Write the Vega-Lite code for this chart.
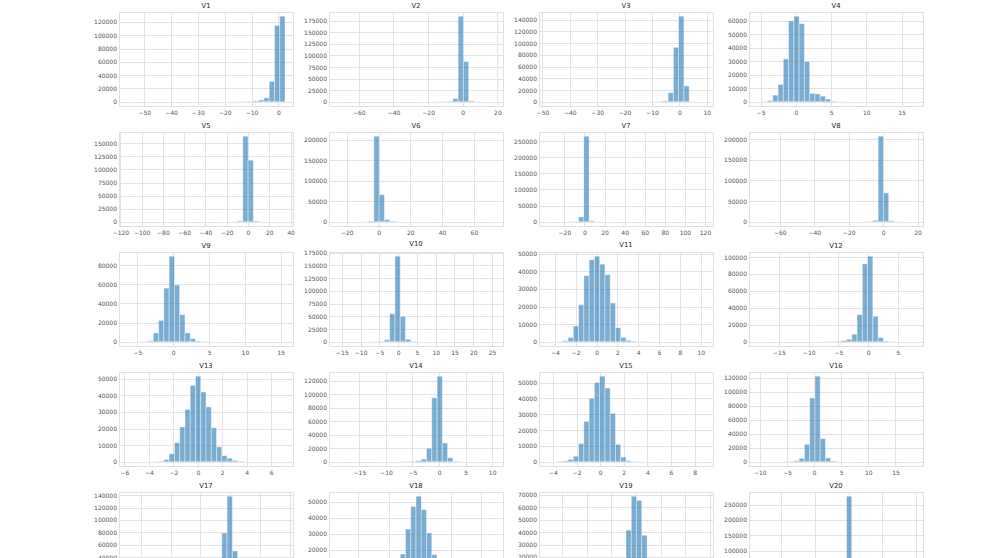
{
"$schema": "https://vega.github.io/schema/vega-lite/v6.json",
"background": "white",
"padding": {"left": 93, "top": 2, "right": 0, "bottom": 0},
"datasets": {
"V1": [{"s":-56.41,"e":-54.45,"c":2},{"s":-21.09,"e":-19.13,"c":30},{"s":-19.13,"e":-17.17,"c":50},{"s":-17.17,"e":-15.21,"c":80},{"s":-15.21,"e":-13.25,"c":150},{"s":-13.25,"e":-11.28,"c":300},{"s":-11.28,"e":-9.32,"c":600},{"s":-9.32,"e":-7.36,"c":1300},{"s":-7.36,"e":-5.40,"c":2800},{"s":-5.40,"e":-3.44,"c":6000},{"s":-3.44,"e":-1.47,"c":30500},{"s":-1.47,"e":0.49,"c":114500},{"s":0.49,"e":2.45,"c":128500}],
"V2": [{"s":-72.6,"e":-69.56,"c":1},{"s":-23.96,"e":-20.92,"c":20},{"s":-20.92,"e":-17.88,"c":40},{"s":-17.88,"e":-14.84,"c":100},{"s":-14.84,"e":-11.8,"c":250},{"s":-11.8,"e":-8.76,"c":500},{"s":-8.76,"e":-5.72,"c":1300},{"s":-5.72,"e":-2.68,"c":6900},{"s":-2.68,"e":0.36,"c":184500},{"s":0.36,"e":3.40,"c":86800},{"s":3.40,"e":6.44,"c":2000},{"s":6.44,"e":9.48,"c":250},{"s":9.48,"e":12.52,"c":60},{"s":12.52,"e":15.56,"c":15},{"s":15.56,"e":18.6,"c":3}],
"V3": [{"s":-48.33,"e":-46.41,"c":1},{"s":-15.63,"e":-13.70,"c":20},{"s":-13.70,"e":-11.78,"c":40},{"s":-11.78,"e":-9.86,"c":80},{"s":-9.86,"e":-7.93,"c":200},{"s":-7.93,"e":-6.01,"c":500},{"s":-6.01,"e":-4.09,"c":1600},{"s":-4.09,"e":-2.16,"c":15700},{"s":-2.16,"e":-0.24,"c":92800},{"s":-0.24,"e":1.69,"c":146000},{"s":1.69,"e":3.61,"c":27100},{"s":3.61,"e":5.53,"c":300},{"s":5.53,"e":7.46,"c":40},{"s":7.46,"e":9.38,"c":5}],
"V4": [{"s":-5.50,"e":-4.75,"c":20},{"s":-4.75,"e":-4.01,"c":150},{"s":-4.01,"e":-3.26,"c":900},{"s":-3.26,"e":-2.51,"c":4900},{"s":-2.51,"e":-1.77,"c":12900},{"s":-1.77,"e":-1.02,"c":31700},{"s":-1.02,"e":-0.27,"c":59800},{"s":-0.27,"e":0.47,"c":63300},{"s":0.47,"e":1.22,"c":57800},{"s":1.22,"e":1.97,"c":29800},{"s":1.97,"e":2.71,"c":6300},{"s":2.71,"e":3.46,"c":5800},{"s":3.46,"e":4.21,"c":4200},{"s":4.21,"e":4.95,"c":2000},{"s":4.95,"e":5.70,"c":400},{"s":5.70,"e":6.45,"c":120},{"s":6.45,"e":7.19,"c":50},{"s":7.19,"e":7.94,"c":25},{"s":7.94,"e":8.69,"c":12},{"s":8.69,"e":9.43,"c":6},{"s":9.43,"e":10.18,"c":4},{"s":16.15,"e":16.9,"c":1}],
"V5": [{"s":-113.74,"e":-108.79,"c":1},{"s":-29.57,"e":-24.62,"c":10},{"s":-24.62,"e":-19.67,"c":30},{"s":-19.67,"e":-14.71,"c":80},{"s":-14.71,"e":-9.76,"c":250},{"s":-9.76,"e":-4.81,"c":1800},{"s":-4.81,"e":0.14,"c":163400},{"s":0.14,"e":5.09,"c":117700},{"s":5.09,"e":10.04,"c":1500},{"s":10.04,"e":14.99,"c":150},{"s":14.99,"e":19.95,"c":30},{"s":19.95,"e":24.90,"c":10},{"s":24.90,"e":29.85,"c":4},{"s":29.85,"e":34.80,"c":1}],
"V6": [{"s":-26.16,"e":-22.84,"c":2},{"s":-16.21,"e":-12.90,"c":20},{"s":-12.90,"e":-9.58,"c":60},{"s":-9.58,"e":-6.27,"c":300},{"s":-6.27,"e":-2.95,"c":1800},{"s":-2.95,"e":0.36,"c":208500},{"s":0.36,"e":3.68,"c":66100},{"s":3.68,"e":6.99,"c":5400},{"s":6.99,"e":10.31,"c":1500},{"s":10.31,"e":13.62,"c":400},{"s":13.62,"e":16.94,"c":150},{"s":16.94,"e":20.25,"c":60},{"s":20.25,"e":23.57,"c":25},{"s":23.57,"e":26.88,"c":10},{"s":26.88,"e":30.20,"c":5},{"s":69.98,"e":73.30,"c":1}],
"V7": [{"s":-37.3,"e":-32.06,"c":1},{"s":-16.33,"e":-11.08,"c":200},{"s":-11.08,"e":-5.84,"c":800},{"s":-5.84,"e":-0.60,"c":15000},{"s":-0.60,"e":4.65,"c":265000},{"s":4.65,"e":9.89,"c":3000},{"s":9.89,"e":15.13,"c":300},{"s":15.13,"e":20.38,"c":60},{"s":20.38,"e":25.62,"c":15},{"s":114.76,"e":120.0,"c":1}],
"V8": [{"s":-73.22,"e":-70.16,"c":2},{"s":-18.19,"e":-15.13,"c":30},{"s":-15.13,"e":-12.07,"c":80},{"s":-12.07,"e":-9.02,"c":200},{"s":-9.02,"e":-5.96,"c":800},{"s":-5.96,"e":-2.90,"c":3500},{"s":-2.90,"e":0.16,"c":207000},{"s":0.16,"e":3.21,"c":70000},{"s":3.21,"e":6.27,"c":2500},{"s":6.27,"e":9.33,"c":400},{"s":9.33,"e":12.38,"c":80},{"s":12.38,"e":15.44,"c":20},{"s":15.44,"e":18.5,"c":3}],
"V9": [{"s":-6.45,"e":-5.72,"c":5},{"s":-5.72,"e":-4.98,"c":20},{"s":-4.98,"e":-4.25,"c":80},{"s":-4.25,"e":-3.51,"c":300},{"s":-3.51,"e":-2.78,"c":1000},{"s":-2.78,"e":-2.04,"c":9300},{"s":-2.04,"e":-1.31,"c":22300},{"s":-1.31,"e":-0.57,"c":56000},{"s":-0.57,"e":0.17,"c":89300},{"s":0.17,"e":0.90,"c":59300},{"s":0.90,"e":1.64,"c":28300},{"s":1.64,"e":2.37,"c":9300},{"s":2.37,"e":3.11,"c":3300},{"s":3.11,"e":3.84,"c":800},{"s":3.84,"e":4.58,"c":250},{"s":4.58,"e":5.31,"c":100},{"s":5.31,"e":6.05,"c":40},{"s":6.05,"e":6.78,"c":20},{"s":6.78,"e":7.52,"c":10},{"s":14.87,"e":15.6,"c":1}],
"V10": [{"s":-16.3,"e":-14.90,"c":2},{"s":-9.28,"e":-7.88,"c":50},{"s":-7.88,"e":-6.48,"c":150},{"s":-6.48,"e":-5.07,"c":350},{"s":-5.07,"e":-3.67,"c":800},{"s":-3.67,"e":-2.27,"c":4000},{"s":-2.27,"e":-0.86,"c":55000},{"s":-0.86,"e":0.54,"c":168000},{"s":0.54,"e":1.94,"c":50000},{"s":1.94,"e":3.35,"c":5000},{"s":3.35,"e":4.75,"c":800},{"s":4.75,"e":6.15,"c":200},{"s":6.15,"e":7.56,"c":60},{"s":7.56,"e":8.96,"c":20},{"s":24.40,"e":25.8,"c":1}],
"V11": [{"s":-4.75,"e":-4.245,"c":5},{"s":-4.245,"e":-3.74,"c":30},{"s":-3.74,"e":-3.235,"c":150},{"s":-3.235,"e":-2.73,"c":600},{"s":-2.73,"e":-2.225,"c":2500},{"s":-2.225,"e":-1.72,"c":9000},{"s":-1.72,"e":-1.215,"c":21000},{"s":-1.215,"e":-0.71,"c":37500},{"s":-0.71,"e":-0.205,"c":46500},{"s":-0.205,"e":0.30,"c":48500},{"s":0.30,"e":0.805,"c":44000},{"s":0.805,"e":1.31,"c":38000},{"s":1.31,"e":1.815,"c":22000},{"s":1.815,"e":2.32,"c":8000},{"s":2.32,"e":2.825,"c":2500},{"s":2.825,"e":3.33,"c":800},{"s":3.33,"e":3.835,"c":300},{"s":3.835,"e":4.34,"c":120},{"s":4.34,"e":4.845,"c":50},{"s":4.845,"e":5.35,"c":20},{"s":9.895,"e":10.4,"c":1}],
"V12": [{"s":-18.68,"e":-17.80,"c":2},{"s":-8.07,"e":-7.19,"c":50},{"s":-7.19,"e":-6.30,"c":150},{"s":-6.30,"e":-5.42,"c":300},{"s":-5.42,"e":-4.53,"c":700},{"s":-4.53,"e":-3.65,"c":1500},{"s":-3.65,"e":-2.76,"c":3000},{"s":-2.76,"e":-1.88,"c":9000},{"s":-1.88,"e":-0.99,"c":32000},{"s":-0.99,"e":-0.11,"c":92000},{"s":-0.11,"e":0.77,"c":101000},{"s":0.77,"e":1.66,"c":30000},{"s":1.66,"e":2.54,"c":5000},{"s":2.54,"e":3.43,"c":800},{"s":3.43,"e":4.31,"c":150},{"s":4.31,"e":5.20,"c":40},{"s":5.20,"e":6.08,"c":10},{"s":6.97,"e":7.85,"c":1}],
"V13": [{"s":-5.79,"e":-5.36,"c":2},{"s":-5.36,"e":-4.93,"c":5},{"s":-4.93,"e":-4.50,"c":10},{"s":-4.50,"e":-4.07,"c":20},{"s":-4.07,"e":-3.64,"c":40},{"s":-3.64,"e":-3.21,"c":100},{"s":-3.21,"e":-2.78,"c":300},{"s":-2.78,"e":-2.35,"c":1300},{"s":-2.35,"e":-1.91,"c":4800},{"s":-1.91,"e":-1.48,"c":11500},{"s":-1.48,"e":-1.05,"c":21000},{"s":-1.05,"e":-0.62,"c":31500},{"s":-0.62,"e":-0.19,"c":46000},{"s":-0.19,"e":0.24,"c":51500},{"s":0.24,"e":0.67,"c":42000},{"s":0.67,"e":1.10,"c":33000},{"s":1.10,"e":1.53,"c":20500},{"s":1.53,"e":1.96,"c":9000},{"s":1.96,"e":2.39,"c":3700},{"s":2.39,"e":2.82,"c":2200},{"s":2.82,"e":3.25,"c":800},{"s":3.25,"e":3.68,"c":300},{"s":3.68,"e":4.12,"c":100},{"s":4.12,"e":4.55,"c":40},{"s":4.55,"e":4.98,"c":15},{"s":4.98,"e":5.41,"c":8},{"s":5.41,"e":5.84,"c":4},{"s":5.84,"e":6.27,"c":2},{"s":6.27,"e":6.70,"c":1},{"s":6.70,"e":7.13,"c":1}],
"V14": [{"s":-19.21,"e":-18.22,"c":2},{"s":-11.28,"e":-10.29,"c":20},{"s":-10.29,"e":-9.30,"c":40},{"s":-9.30,"e":-8.30,"c":60},{"s":-8.30,"e":-7.31,"c":100},{"s":-7.31,"e":-6.32,"c":200},{"s":-6.32,"e":-5.33,"c":300},{"s":-5.33,"e":-4.34,"c":600},{"s":-4.34,"e":-3.35,"c":1500},{"s":-3.35,"e":-2.36,"c":4000},{"s":-2.36,"e":-1.37,"c":20000},{"s":-1.37,"e":-0.37,"c":95000},{"s":-0.37,"e":0.62,"c":127000},{"s":0.62,"e":1.61,"c":28000},{"s":1.61,"e":2.60,"c":6000},{"s":2.60,"e":3.59,"c":800},{"s":3.59,"e":4.58,"c":200},{"s":4.58,"e":5.57,"c":60},{"s":5.57,"e":6.56,"c":20},{"s":9.54,"e":10.53,"c":1}],
"V15": [{"s":-4.50,"e":-4.05,"c":10},{"s":-4.05,"e":-3.61,"c":60},{"s":-3.61,"e":-3.16,"c":250},{"s":-3.16,"e":-2.72,"c":600},{"s":-2.72,"e":-2.27,"c":1500},{"s":-2.27,"e":-1.82,"c":3500},{"s":-1.82,"e":-1.38,"c":11500},{"s":-1.38,"e":-0.93,"c":25500},{"s":-0.93,"e":-0.49,"c":40000},{"s":-0.49,"e":-0.04,"c":50000},{"s":-0.04,"e":0.41,"c":54000},{"s":0.41,"e":0.85,"c":46500},{"s":0.85,"e":1.30,"c":30500},{"s":1.30,"e":1.74,"c":11000},{"s":1.74,"e":2.19,"c":3000},{"s":2.19,"e":2.64,"c":700},{"s":2.64,"e":3.08,"c":200},{"s":3.08,"e":3.53,"c":60},{"s":3.53,"e":3.97,"c":20},{"s":3.97,"e":4.42,"c":8},{"s":8.43,"e":8.88,"c":1}],
"V16": [{"s":-10.5,"e":-9.53,"c":5},{"s":-7.59,"e":-6.62,"c":30},{"s":-6.62,"e":-5.65,"c":80},{"s":-5.65,"e":-4.68,"c":200},{"s":-4.68,"e":-3.71,"c":500},{"s":-3.71,"e":-2.74,"c":1500},{"s":-2.74,"e":-1.77,"c":5000},{"s":-1.77,"e":-0.80,"c":25000},{"s":-0.80,"e":0.17,"c":91000},{"s":0.17,"e":1.14,"c":122000},{"s":1.14,"e":2.11,"c":33000},{"s":2.11,"e":3.08,"c":5500},{"s":3.08,"e":4.05,"c":1000},{"s":4.05,"e":5.02,"c":250},{"s":5.02,"e":5.99,"c":80},{"s":5.99,"e":6.96,"c":30},{"s":17.63,"e":18.6,"c":1}],
"V17": [{"s":-17.3,"e":-16.42,"c":2},{"s":-6.70,"e":-5.82,"c":50},{"s":-5.82,"e":-4.93,"c":120},{"s":-4.93,"e":-4.05,"c":250},{"s":-4.05,"e":-3.17,"c":500},{"s":-3.17,"e":-2.28,"c":1500},{"s":-2.28,"e":-1.40,"c":9000},{"s":-1.40,"e":-0.52,"c":79000},{"s":-0.52,"e":0.37,"c":138500},{"s":0.37,"e":1.25,"c":50000},{"s":1.25,"e":2.13,"c":5000},{"s":2.13,"e":3.02,"c":1000},{"s":3.02,"e":3.90,"c":250},{"s":3.90,"e":4.78,"c":80},{"s":4.78,"e":5.67,"c":25},{"s":8.32,"e":9.2,"c":1}],
"V18": [{"s":-5.4,"e":-5.06,"c":5},{"s":-5.06,"e":-4.71,"c":10},{"s":-4.71,"e":-4.37,"c":20},{"s":-4.37,"e":-4.03,"c":50},{"s":-4.03,"e":-3.68,"c":100},{"s":-3.68,"e":-3.34,"c":200},{"s":-3.34,"e":-3.00,"c":400},{"s":-3.00,"e":-2.65,"c":700},{"s":-2.65,"e":-2.31,"c":1300},{"s":-2.31,"e":-1.97,"c":2700},{"s":-1.97,"e":-1.62,"c":4200},{"s":-1.62,"e":-1.28,"c":8000},{"s":-1.28,"e":-0.94,"c":17400},{"s":-0.94,"e":-0.59,"c":33000},{"s":-0.59,"e":-0.25,"c":47200},{"s":-0.25,"e":0.09,"c":53600},{"s":0.09,"e":0.44,"c":45200},{"s":0.44,"e":0.78,"c":30600},{"s":0.78,"e":1.12,"c":17000},{"s":1.12,"e":1.47,"c":8000},{"s":1.47,"e":1.81,"c":3500},{"s":1.81,"e":2.15,"c":1500},{"s":2.15,"e":2.50,"c":600},{"s":2.50,"e":2.84,"c":250},{"s":2.84,"e":3.18,"c":100},{"s":3.18,"e":3.53,"c":50},{"s":3.53,"e":3.87,"c":20},{"s":3.87,"e":4.21,"c":10},{"s":4.21,"e":4.56,"c":5},{"s":4.56,"e":4.9,"c":2}],
"V19": [{"s":-7.21,"e":-6.78,"c":2},{"s":-3.80,"e":-3.37,"c":200},{"s":-3.37,"e":-2.94,"c":500},{"s":-2.94,"e":-2.52,"c":1000},{"s":-2.52,"e":-2.09,"c":2000},{"s":-2.09,"e":-1.66,"c":4000},{"s":-1.66,"e":-1.24,"c":8000},{"s":-1.24,"e":-0.81,"c":17000},{"s":-0.81,"e":-0.38,"c":41600},{"s":-0.38,"e":0.04,"c":69000},{"s":0.04,"e":0.47,"c":65600},{"s":0.47,"e":0.90,"c":37500},{"s":0.90,"e":1.32,"c":17000},{"s":1.32,"e":1.75,"c":8000},{"s":1.75,"e":2.18,"c":4000},{"s":2.18,"e":2.60,"c":2000},{"s":2.60,"e":3.03,"c":1000},{"s":3.03,"e":3.46,"c":500},{"s":3.46,"e":3.88,"c":200},{"s":3.88,"e":4.31,"c":80},{"s":5.16,"e":5.59,"c":1}],
"V20": [{"s":-54.5,"e":-51.37,"c":1},{"s":-13.80,"e":-10.67,"c":50},{"s":-10.67,"e":-7.54,"c":150},{"s":-7.54,"e":-4.41,"c":500},{"s":-4.41,"e":-1.28,"c":4500},{"s":-1.28,"e":1.85,"c":276900},{"s":1.85,"e":4.98,"c":3000},{"s":4.98,"e":8.11,"c":300},{"s":8.11,"e":11.24,"c":80},{"s":36.29,"e":39.42,"c":1}]
},
"columns": 4,
"spacing": {"row": 26, "column": 36},
"bounds": "flush",
"concat": [
{"title": "V1", "data": {"name": "V1"}, "mark": "rect", "encoding": {"x": {"field": "s", "type": "quantitative", "title": null, "scale": {"padding": 8, "nice": false, "zero": false}, "axis": {"values": [-50,-40,-30,-20,-10,0], "format": "d"}}, "x2": {"field": "e"}, "y": {"field": "c", "type": "quantitative", "title": null, "scale": {"padding": 4.2, "domainMin": 0, "nice": false}, "axis": {"values": [0,20000,40000,60000,80000,100000,120000], "format": "d"}}, "y2": {"datum": 0}}},
{"title": "V2", "data": {"name": "V2"}, "mark": "rect", "encoding": {"x": {"field": "s", "type": "quantitative", "title": null, "scale": {"padding": 8, "nice": false, "zero": false}, "axis": {"values": [-60,-40,-20,0,20], "format": "d"}}, "x2": {"field": "e"}, "y": {"field": "c", "type": "quantitative", "title": null, "scale": {"padding": 4.2, "domainMin": 0, "nice": false}, "axis": {"values": [0,25000,50000,75000,100000,125000,150000,175000], "format": "d"}}, "y2": {"datum": 0}}},
{"title": "V3", "data": {"name": "V3"}, "mark": "rect", "encoding": {"x": {"field": "s", "type": "quantitative", "title": null, "scale": {"padding": 8, "nice": false, "zero": false}, "axis": {"values": [-50,-40,-30,-20,-10,0,10], "format": "d"}}, "x2": {"field": "e"}, "y": {"field": "c", "type": "quantitative", "title": null, "scale": {"padding": 4.2, "domainMin": 0, "nice": false}, "axis": {"values": [0,20000,40000,60000,80000,100000,120000,140000], "format": "d"}}, "y2": {"datum": 0}}},
{"title": "V4", "data": {"name": "V4"}, "mark": "rect", "encoding": {"x": {"field": "s", "type": "quantitative", "title": null, "scale": {"padding": 8, "nice": false, "zero": false}, "axis": {"values": [-5,0,5,10,15], "format": "d"}}, "x2": {"field": "e"}, "y": {"field": "c", "type": "quantitative", "title": null, "scale": {"padding": 4.2, "domainMin": 0, "nice": false}, "axis": {"values": [0,10000,20000,30000,40000,50000,60000], "format": "d"}}, "y2": {"datum": 0}}},
{"title": "V5", "data": {"name": "V5"}, "mark": "rect", "encoding": {"x": {"field": "s", "type": "quantitative", "title": null, "scale": {"padding": 8, "nice": false, "zero": false}, "axis": {"values": [-120,-100,-80,-60,-40,-20,0,20,40], "format": "d"}}, "x2": {"field": "e"}, "y": {"field": "c", "type": "quantitative", "title": null, "scale": {"padding": 4.2, "domainMin": 0, "nice": false}, "axis": {"values": [0,25000,50000,75000,100000,125000,150000], "format": "d"}}, "y2": {"datum": 0}}},
{"title": "V6", "data": {"name": "V6"}, "mark": "rect", "encoding": {"x": {"field": "s", "type": "quantitative", "title": null, "scale": {"padding": 8, "nice": false, "zero": false}, "axis": {"values": [-20,0,20,40,60], "format": "d"}}, "x2": {"field": "e"}, "y": {"field": "c", "type": "quantitative", "title": null, "scale": {"padding": 4.2, "domainMin": 0, "nice": false}, "axis": {"values": [0,50000,100000,150000,200000], "format": "d"}}, "y2": {"datum": 0}}},
{"title": "V7", "data": {"name": "V7"}, "mark": "rect", "encoding": {"x": {"field": "s", "type": "quantitative", "title": null, "scale": {"padding": 8, "nice": false, "zero": false}, "axis": {"values": [-20,0,20,40,60,80,100,120], "format": "d"}}, "x2": {"field": "e"}, "y": {"field": "c", "type": "quantitative", "title": null, "scale": {"padding": 4.2, "domainMin": 0, "nice": false}, "axis": {"values": [0,50000,100000,150000,200000,250000], "format": "d"}}, "y2": {"datum": 0}}},
{"title": "V8", "data": {"name": "V8"}, "mark": "rect", "encoding": {"x": {"field": "s", "type": "quantitative", "title": null, "scale": {"padding": 8, "nice": false, "zero": false}, "axis": {"values": [-60,-40,-20,0,20], "format": "d"}}, "x2": {"field": "e"}, "y": {"field": "c", "type": "quantitative", "title": null, "scale": {"padding": 4.2, "domainMin": 0, "nice": false}, "axis": {"values": [0,50000,100000,150000,200000], "format": "d"}}, "y2": {"datum": 0}}},
{"title": "V9", "data": {"name": "V9"}, "mark": "rect", "encoding": {"x": {"field": "s", "type": "quantitative", "title": null, "scale": {"padding": 8, "nice": false, "zero": false}, "axis": {"values": [-5,0,5,10,15], "format": "d"}}, "x2": {"field": "e"}, "y": {"field": "c", "type": "quantitative", "title": null, "scale": {"padding": 4.2, "domainMin": 0, "nice": false}, "axis": {"values": [0,20000,40000,60000,80000], "format": "d"}}, "y2": {"datum": 0}}},
{"title": "V10", "data": {"name": "V10"}, "mark": "rect", "encoding": {"x": {"field": "s", "type": "quantitative", "title": null, "scale": {"padding": 8, "nice": false, "zero": false}, "axis": {"values": [-15,-10,-5,0,5,10,15,20,25], "format": "d"}}, "x2": {"field": "e"}, "y": {"field": "c", "type": "quantitative", "title": null, "scale": {"padding": 4.2, "domainMin": 0, "nice": false}, "axis": {"values": [0,25000,50000,75000,100000,125000,150000,175000], "format": "d"}}, "y2": {"datum": 0}}},
{"title": "V11", "data": {"name": "V11"}, "mark": "rect", "encoding": {"x": {"field": "s", "type": "quantitative", "title": null, "scale": {"padding": 8, "nice": false, "zero": false}, "axis": {"values": [-4,-2,0,2,4,6,8,10], "format": "d"}}, "x2": {"field": "e"}, "y": {"field": "c", "type": "quantitative", "title": null, "scale": {"padding": 4.2, "domainMin": 0, "nice": false}, "axis": {"values": [0,10000,20000,30000,40000,50000], "format": "d"}}, "y2": {"datum": 0}}},
{"title": "V12", "data": {"name": "V12"}, "mark": "rect", "encoding": {"x": {"field": "s", "type": "quantitative", "title": null, "scale": {"padding": 8, "nice": false, "zero": false}, "axis": {"values": [-15,-10,-5,0,5], "format": "d"}}, "x2": {"field": "e"}, "y": {"field": "c", "type": "quantitative", "title": null, "scale": {"padding": 4.2, "domainMin": 0, "nice": false}, "axis": {"values": [0,20000,40000,60000,80000,100000], "format": "d"}}, "y2": {"datum": 0}}},
{"title": "V13", "data": {"name": "V13"}, "mark": "rect", "encoding": {"x": {"field": "s", "type": "quantitative", "title": null, "scale": {"padding": 8, "nice": false, "zero": false}, "axis": {"values": [-6,-4,-2,0,2,4,6], "format": "d"}}, "x2": {"field": "e"}, "y": {"field": "c", "type": "quantitative", "title": null, "scale": {"padding": 4.2, "domainMin": 0, "nice": false}, "axis": {"values": [0,10000,20000,30000,40000,50000], "format": "d"}}, "y2": {"datum": 0}}},
{"title": "V14", "data": {"name": "V14"}, "mark": "rect", "encoding": {"x": {"field": "s", "type": "quantitative", "title": null, "scale": {"padding": 8, "nice": false, "zero": false}, "axis": {"values": [-15,-10,-5,0,5,10], "format": "d"}}, "x2": {"field": "e"}, "y": {"field": "c", "type": "quantitative", "title": null, "scale": {"padding": 4.2, "domainMin": 0, "nice": false}, "axis": {"values": [0,20000,40000,60000,80000,100000,120000], "format": "d"}}, "y2": {"datum": 0}}},
{"title": "V15", "data": {"name": "V15"}, "mark": "rect", "encoding": {"x": {"field": "s", "type": "quantitative", "title": null, "scale": {"padding": 8, "nice": false, "zero": false}, "axis": {"values": [-4,-2,0,2,4,6,8], "format": "d"}}, "x2": {"field": "e"}, "y": {"field": "c", "type": "quantitative", "title": null, "scale": {"padding": 4.2, "domainMin": 0, "nice": false}, "axis": {"values": [0,10000,20000,30000,40000,50000], "format": "d"}}, "y2": {"datum": 0}}},
{"title": "V16", "data": {"name": "V16"}, "mark": "rect", "encoding": {"x": {"field": "s", "type": "quantitative", "title": null, "scale": {"padding": 8, "nice": false, "zero": false}, "axis": {"values": [-10,-5,0,5,10,15], "format": "d"}}, "x2": {"field": "e"}, "y": {"field": "c", "type": "quantitative", "title": null, "scale": {"padding": 4.2, "domainMin": 0, "nice": false}, "axis": {"values": [0,20000,40000,60000,80000,100000,120000], "format": "d"}}, "y2": {"datum": 0}}},
{"title": "V17", "data": {"name": "V17"}, "mark": "rect", "encoding": {"x": {"field": "s", "type": "quantitative", "title": null, "scale": {"padding": 8, "nice": false, "zero": false}, "axis": {"values": [-15,-10,-5,0,5,10], "format": "d"}}, "x2": {"field": "e"}, "y": {"field": "c", "type": "quantitative", "title": null, "scale": {"padding": 4.2, "domainMin": 0, "nice": false}, "axis": {"values": [0,20000,40000,60000,80000,100000,120000,140000], "format": "d"}}, "y2": {"datum": 0}}},
{"title": "V18", "data": {"name": "V18"}, "mark": "rect", "encoding": {"x": {"field": "s", "type": "quantitative", "title": null, "scale": {"padding": 8, "nice": false, "zero": false}, "axis": {"values": [-4,-2,0,2,4], "format": "d"}}, "x2": {"field": "e"}, "y": {"field": "c", "type": "quantitative", "title": null, "scale": {"padding": 4.2, "domainMin": 0, "nice": false}, "axis": {"values": [0,10000,20000,30000,40000,50000], "format": "d"}}, "y2": {"datum": 0}}},
{"title": "V19", "data": {"name": "V19"}, "mark": "rect", "encoding": {"x": {"field": "s", "type": "quantitative", "title": null, "scale": {"padding": 8, "nice": false, "zero": false}, "axis": {"values": [-6,-4,-2,0,2,4,6], "format": "d"}}, "x2": {"field": "e"}, "y": {"field": "c", "type": "quantitative", "title": null, "scale": {"padding": 4.2, "domainMin": 0, "nice": false}, "axis": {"values": [0,10000,20000,30000,40000,50000,60000,70000], "format": "d"}}, "y2": {"datum": 0}}},
{"title": "V20", "data": {"name": "V20"}, "mark": "rect", "encoding": {"x": {"field": "s", "type": "quantitative", "title": null, "scale": {"padding": 8, "nice": false, "zero": false}, "axis": {"values": [-40,-20,0,20,40], "format": "d"}}, "x2": {"field": "e"}, "y": {"field": "c", "type": "quantitative", "title": null, "scale": {"padding": 4.2, "domainMin": 0, "nice": false}, "axis": {"values": [0,50000,100000,150000,200000,250000], "format": "d"}}, "y2": {"datum": 0}}}
],
"config": {
"view": {"continuousWidth": 174, "continuousHeight": 94, "stroke": "#e0e0e0", "strokeWidth": 1},
"axis": {"grid": true, "gridColor": "#e3e3e3", "gridWidth": 1, "domain": false, "ticks": false, "labelFontSize": 6, "labelColor": "#555555", "labelFont": "DejaVu Sans"},
"axisX": {"labelPadding": 3},
"axisY": {"labelPadding": 2.5},
"title": {"fontSize": 6.8, "font": "DejaVu Sans", "color": "#262626", "fontWeight": "normal", "offset": 2, "anchor": "middle"},
"rect": {"fill": "#1f77b4", "fillOpacity": 0.6, "stroke": "#ffffff", "strokeWidth": 0.6, "strokeOpacity": 0.7}
}
}
